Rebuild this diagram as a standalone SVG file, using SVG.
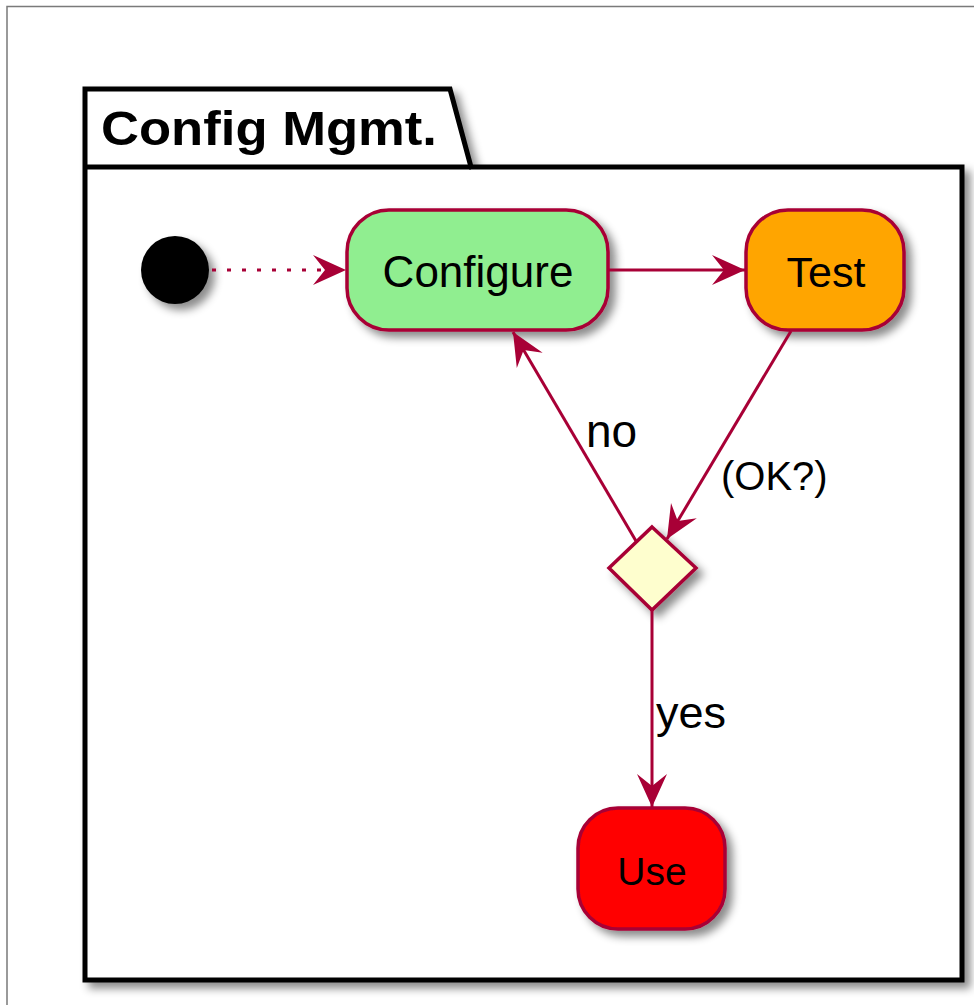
<svg xmlns="http://www.w3.org/2000/svg" width="974" height="1005" viewBox="0 0 974 1005">
<style>
.node{stroke:#A80036;stroke-width:3.5}
.edge{stroke:#A80036;stroke-width:3;fill:none}
.lbl{font-family:"Liberation Sans",Arial,sans-serif;fill:#000}
</style>
<defs>
<filter id="sh" x="-20%" y="-20%" width="150%" height="150%">
<feDropShadow dx="6" dy="6" stdDeviation="4.5" flood-color="#000" flood-opacity="0.45"/>
</filter>
<marker id="arr" viewBox="-34 -16 36 32" refX="0" refY="0" markerWidth="36" markerHeight="32" markerUnits="userSpaceOnUse" orient="auto">
<path d="M0,0 L-33,-15 L-21,0 L-33,15 Z" fill="#A80036"/>
</marker>
</defs>
<rect x="0" y="0" width="974" height="1005" fill="#fff"/>
<rect x="7" y="6.5" width="990" height="1020" fill="none" stroke="#7a7a7a" stroke-width="1.5"/>
<g id="package">
<path d="M85,89 L450,89 L471,167 L962,167 L962,980 L85,980 Z" fill="#fff" stroke="#000" stroke-width="5" filter="url(#sh)"/>
<line x1="85" y1="167" x2="471" y2="167" stroke="#000" stroke-width="5"/>
<text class="lbl" x="101" y="145" font-size="49" font-weight="bold" textLength="336" lengthAdjust="spacingAndGlyphs">Config Mgmt.</text>
</g>
<g id="start">
<circle cx="175" cy="270" r="34" fill="#000" filter="url(#sh)"/>
</g>
<g id="configure">
<rect class="node" x="347" y="210" width="261" height="120" rx="42" ry="42" fill="#90EE90" filter="url(#sh)"/>
<text class="lbl" x="478" y="287" font-size="44" text-anchor="middle">Configure</text>
</g>
<g id="test">
<rect class="node" x="746" y="210" width="158" height="120" rx="42" ry="42" fill="#FFA500" filter="url(#sh)"/>
<text class="lbl" x="826" y="287" font-size="43" text-anchor="middle">Test</text>
</g>
<g id="decision">
<polygon class="node" points="652,527 696,568 652,610 609,568" fill="#FEFECE" filter="url(#sh)"/>
</g>
<g id="use">
<rect class="node" x="578" y="808" width="147" height="121" rx="40" ry="40" fill="#FF0000" filter="url(#sh)"/>
<text class="lbl" x="652" y="885" font-size="39" text-anchor="middle">Use</text>
</g>
<g id="connectors">
<line class="edge" x1="212" y1="270" x2="346" y2="270" stroke-width="3.5" stroke-dasharray="4 11" marker-end="url(#arr)"/>
<line class="edge" x1="608" y1="270" x2="745" y2="270" marker-end="url(#arr)"/>
<line class="edge" x1="791" y1="331" x2="667" y2="539" marker-end="url(#arr)"/>
<line class="edge" x1="636" y1="541" x2="513" y2="332" marker-end="url(#arr)"/>
<line class="edge" x1="652" y1="610" x2="652" y2="807" marker-end="url(#arr)"/>
<text class="lbl" x="586" y="447" font-size="46">no</text>
<text class="lbl" x="721" y="490" font-size="40">(OK?)</text>
<text class="lbl" x="656" y="728" font-size="45">yes</text>
</g>
</svg>
